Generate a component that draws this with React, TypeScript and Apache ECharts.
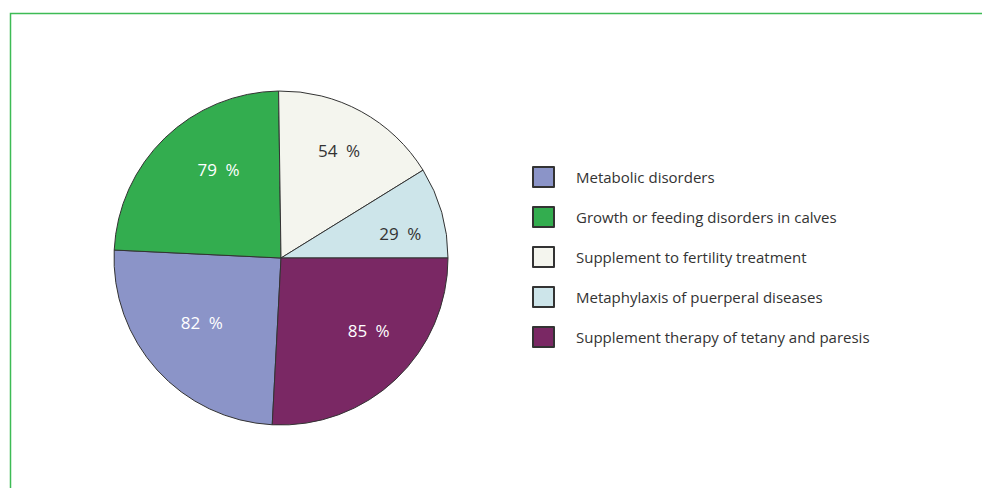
import React, { useEffect, useRef } from "react";
import * as echarts from "echarts";

const categories = [
  "Metabolic disorders",
  "Growth or feeding disorders in calves",
  "Supplement to fertility treatment",
  "Metaphylaxis of puerperal diseases",
  "Supplement therapy of tetany and paresis",
];
const values = [82, 79, 54, 29, 85];
const colors = ["#8b94c8", "#33ad4f", "#f4f5ee", "#cde5ea", "#7a2864"];
const labelColors = ["#ffffff", "#ffffff", "#333333", "#333333", "#ffffff"];
const labelOffsets = [[12, -18], [23, 0], [-1, 0], [1, 9], [3, -17]];

export default function App() {
  const ref = useRef<HTMLDivElement>(null);
  useEffect(() => {
    if (!ref.current) return;
    const chart = echarts.init(ref.current, undefined, { renderer: "svg" });
    const total = values.reduce((a, b) => a + b, 0);
    const start = -(values[4] / total) * 360;
    const font = "'Open Sans', 'Noto Sans', sans-serif";
    chart.setOption({
      animation: false,
      backgroundColor: "#ffffff",
      graphic: [
        {
          type: "rect",
          shape: { x: 10.5, y: 13.5, width: 1000, height: 500 },
          style: { fill: "none", stroke: "#3dbb55", lineWidth: 1.5 },
          silent: true,
        },
      ],
      legend: {
        orient: "vertical",
        left: 532,
        top: 166,
        padding: 0,
        itemWidth: 21,
        itemHeight: 20,
        itemGap: 18,
        icon: "rect",
        data: categories,
        textStyle: {
          fontFamily: font,
          fontSize: 15,
          lineHeight: 20,
          color: "#333333",
          padding: [0, 0, 0, 17],
        },
      },
      series: [
        {
          type: "pie",
          center: [281, 258],
          radius: [0, 167],
          startAngle: start,
          clockwise: true,
          silent: true,
          label: { show: false },
          labelLine: { show: false },
          itemStyle: { borderColor: "#333333", borderWidth: 1 },
          data: categories.map((name, i) => ({
            name,
            value: values[i],
            itemStyle: { color: colors[i] },
          })),
        },
        {
          type: "pie",
          center: [281, 258],
          radius: [0, 240],
          startAngle: start,
          clockwise: true,
          silent: true,
          legendHoverLink: false,
          labelLine: { show: false },
          itemStyle: { color: "rgba(0,0,0,0)", borderWidth: 0 },
          emphasis: { disabled: true },
          data: categories.map((name, i) => ({
            name: name + " ",
            value: values[i],
            label: {
              show: true,
              position: "inside",
              formatter: "{c}\u2002%",
              color: labelColors[i],
              fontFamily: font,
              fontSize: 17,
              offset: labelOffsets[i],
            },
          })),
        },
      ],
    });
    return () => chart.dispose();
  }, []);
  return (
    <div
      ref={ref}
      style={{ position: "fixed", left: 0, top: 0, width: 982, height: 488 }}
    />
  );
}
